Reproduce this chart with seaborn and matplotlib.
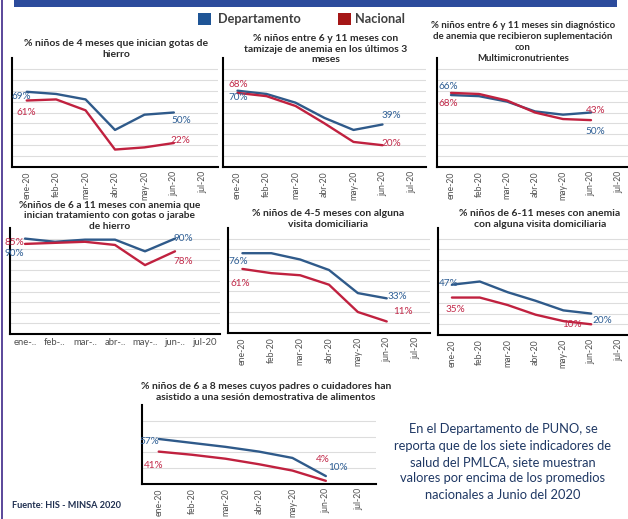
import pandas as pd
import matplotlib.pyplot as plt
import seaborn as sns
from matplotlib.patches import Rectangle

# Meses (eje x) y series por indicador
meses = ['ene-20', 'feb-20', 'mar-20', 'abr-20', 'may-20', 'jun-20', 'jul-20']
meses_cortos = ['ene-..', 'feb-..', 'mar-..', 'abr-..', 'may-..', 'jun-..', 'jul-20']

titulos = [
    '% niños de 4 meses que inician gotas de\nhierro',
    '% niños entre 6 y 11 meses con\ntamizaje de anemia en los últimos 3\nmeses',
    '% niños entre 6 y 11 meses sin diagnóstico\nde anemia que recibieron suplementación\ncon\nMultimicronutrientes',
    '%niños de 6 a 11 meses con anemia que\ninician tratamiento con gotas o jarabe\nde hierro',
    '% niños de 4-5 meses con alguna\nvisita domiciliaria',
    '% niños de 6-11 meses con anemia\ncon alguna visita domiciliaria',
    '% niños de 6 a 8 meses cuyos padres o cuidadores han\nasistido a una sesión demostrativa de alimentos',
]

dep_1 = [69, 67, 62, 34, 48, 50]
nac_1 = [61, 62, 52, 16, 18, 22]
dep_2 = [70, 67, 59, 45, 34, 39]
nac_2 = [68, 65, 56, 40, 23, 20]
dep_3 = [66, 65, 60, 51, 48, 50]
nac_3 = [68, 67, 61, 50, 44, 43]
dep_4 = [90, 87, 89, 89, 78, 90]
nac_4 = [85, 86, 87, 84, 65, 78]
dep_5 = [76, 76, 70, 60, 38, 33]
nac_5 = [61, 57, 55, 46, 20, 11]
dep_6 = [47, 50, 40, 32, 23, 20]
nac_6 = [35, 35, 28, 19, 13, 10]
dep_7 = [57, 52, 47, 41, 33, 10]
nac_7 = [41, 37, 32, 25, 17, 4]

series = [(dep_1, nac_1), (dep_2, nac_2), (dep_3, nac_3), (dep_4, nac_4),
          (dep_5, nac_5), (dep_6, nac_6), (dep_7, nac_7)]

nota = ('En el Departamento de PUNO, se\nreporta que de los siete indicadores de\n'
        'salud del PMLCA, siete muestran\nvalores por encima de los promedios\n'
        'nacionales a Junio del 2020')

# geometry in pixels: left, top, right, bottom
W, H = 628, 519
cajas = [(12, 58, 218, 167), (223, 58, 426, 167), (437, 58, 633, 167),
         (10, 228, 220, 334), (228, 228, 430, 333), (438, 228, 633, 335),
         (142, 405, 376, 484)]
centro_titulo = [(116, 49), (326, 49), (523, 42), (110, 216), (328, 219), (540, 219), (266, 392)]
tam_titulo = [7.5, 7.5, 6.9, 7.3, 7.5, 7.5, 7.5]
# label offsets (px): dep first, nac first, dep last, nac last
offsets = [
    [(-5, -5), (0, -12), (7, -8), (7, 3)],
    [(1, -7), (1, 8), (9, 9), (9, 2)],
    [(-3, 9), (-3, -11), (4, -19), (5, 10)],
    [(-11, -15), (-11, 1), (8, 0), (8, -10)],
    [(-4, -8), (-2, -15), (11, 2), (16, 10)],
    [(-3, 1), (3, -12), (11, -7), (-19, 0)],
    [(-9, -3), (-5, -14), (12, 9), (-3, 21)],
]

azul = '#2F5A8A'
rojo = '#C0213F'
azul_txt = '#2F5F95'
rojo_txt = '#C22A4A'

sns.set_theme(style='white')
plt.rcParams['font.family'] = ['Lato', 'DejaVu Sans']

fig = plt.figure(figsize=(6.28, 5.19), dpi=100)
fig.patch.set_facecolor('white')

# header band and left border
fig.add_artist(Rectangle((14 / W, 1 - 7 / H), 603 / W, 7 / H, transform=fig.transFigure,
                         color='#2C4B9C', lw=0))
fig.add_artist(Rectangle((1 / W, 0), 2 / W, 1, transform=fig.transFigure, color='#5E4B9C', lw=0))

for i, (dep, nac) in enumerate(series):
    l, t, r, b = cajas[i]
    ax = fig.add_axes([l / W, 1 - b / H, (r - l) / W, (b - t) / H])
    df = pd.DataFrame({
        'mes': meses[:6] * 2,
        'valor': dep + nac,
        'serie': ['Departamento'] * 6 + ['Nacional'] * 6,
    })
    sns.lineplot(data=df, x='mes', y='valor', hue='serie', palette=[azul, rojo],
                 lw=1.7, legend=False, ax=ax, sort=False)
    ax.set_xlim(-0.5, 6.5)
    ax.set_ylim(0, 100)
    ax.set_yticks(range(20, 100, 20) if i == 6 else range(10, 100, 10))
    ax.yaxis.grid(True, color='#DDDDDD', lw=0.8)
    ax.tick_params(axis='y', left=False, labelleft=False)
    ax.set_xticks(range(7))
    if i == 3:
        ax.set_xticklabels(meses_cortos, fontsize=6.8, color='#505050')
    else:
        ax.set_xticklabels(meses, rotation=90, fontsize=6.2, color='#505050')
    ax.tick_params(axis='x', length=0, pad=3)
    ax.set_xlabel('')
    ax.set_ylabel('')
    for s in ['top', 'right']:
        ax.spines[s].set_visible(False)
    for s in ['left', 'bottom']:
        ax.spines[s].set_color('black')
        ax.spines[s].set_linewidth(1.5)
    ax.set_facecolor('white')

    pts = [(0, dep[0], azul_txt), (0, nac[0], rojo_txt), (5, dep[-1], azul_txt), (5, nac[-1], rojo_txt)]
    for (x, v, c), (dx, dy) in zip(pts, offsets[i]):
        ax.annotate(f'{v}%', (x, v), xytext=(dx, dy), textcoords='offset pixels',
                    ha='center', va='center', fontsize=7.2, color=c, annotation_clip=False)

    cx, cy = centro_titulo[i]
    fig.text(cx / W, 1 - cy / H, titulos[i], ha='center', va='center', fontsize=tam_titulo[i],
             fontweight='bold', color='#2B2B2B', linespacing=1.28)

# legend
fig.add_artist(Rectangle((198 / W, 1 - 25 / H), 13 / W, 12 / H, transform=fig.transFigure,
                         color='#1F5596', lw=0))
fig.text(218 / W, 1 - 19 / H, 'Departamento', fontsize=9.2, fontweight='bold', color='#404040', va='center')
fig.add_artist(Rectangle((338 / W, 1 - 25 / H), 13 / W, 12 / H, transform=fig.transFigure,
                         color='#A51616', lw=0))
fig.text(355 / W, 1 - 19 / H, 'Nacional', fontsize=9.2, fontweight='bold', color='#404040', va='center')

fig.text(503 / W, 1 - 462 / H, nota, ha='center', va='center', fontsize=9.3,
         color='#1F3864', linespacing=1.45)
fig.text(12 / W, 1 - 506 / H, 'Fuente: HIS - MINSA 2020', fontsize=6.6, fontweight='bold',
         color='#1F2F50', va='center')

fig.savefig('out.png', dpi=100)
